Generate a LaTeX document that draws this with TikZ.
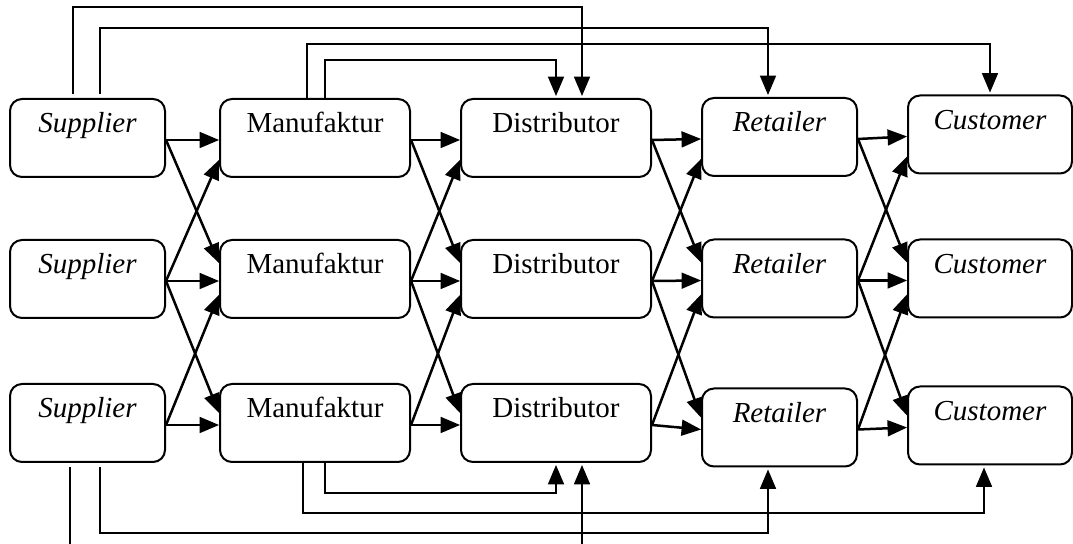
\documentclass[tikz,border=0pt]{standalone}
\usepackage{fontspec}
\setmainfont{Liberation Serif}
\usetikzlibrary{arrows}

\tikzset{
  box/.style={draw, rounded corners=6pt, line width=1pt, inner sep=0pt,
    minimum height=39pt, text height=17pt, text depth=22pt,
    font=\fontsize{14.5}{17}\selectfont},
  link/.style={->, line width=1.25pt},
}

\begin{document}
\begin{tikzpicture}[x=0.5pt,y=-0.5pt,>=triangle 45,line join=miter]
\useasboundingbox (0,0) rectangle (1073,544);
\clip (0,0) rectangle (1073,544);
% boxes
\node[box,minimum width=77.5pt] (sup1) at (87.5,138) {\textit{Supplier}};
\node[box,minimum width=77.5pt] (sup2) at (87.5,279) {\textit{Supplier}};
\node[box,minimum width=77.5pt] (sup3) at (87.5,423) {\textit{Supplier}};
\node[box,minimum width=95pt] (man1) at (315,138) {Manufaktur};
\node[box,minimum width=95pt] (man2) at (315,279) {Manufaktur};
\node[box,minimum width=95pt] (man3) at (315,423) {Manufaktur};
\node[box,minimum width=95pt] (dis1) at (556,138) {Distributor};
\node[box,minimum width=95pt] (dis2) at (556,279) {Distributor};
\node[box,minimum width=95pt] (dis3) at (556,423) {Distributor};
\node[box,minimum width=77.5pt] (ret1) at (779.5,137) {\textit{Retailer}};
\node[box,minimum width=77.5pt] (ret2) at (779.5,278.5) {\textit{Retailer}};
\node[box,minimum width=77.5pt] (ret3) at (779.5,427.5) {\textit{Retailer}};
\node[box,minimum width=82pt] (cus1) at (990,134.5) {\textit{Customer}};
\node[box,minimum width=82pt] (cus2) at (990,278.5) {\textit{Customer}};
\node[box,minimum width=82pt] (cus3) at (990,425.5) {\textit{Customer}};
% links between neighbouring columns
\foreach \a/\b in {sup/man,man/dis,dis/ret,ret/cus}{
  \draw[link] ([yshift=-1pt]\a1.east) -- ([yshift=-1pt]\b1.west);
  \draw[link] ([yshift=-1pt]\a1.east) -- ([yshift=8pt]\b2.west);
  \draw[link] ([yshift=-1pt]\a2.east) -- ([yshift=-11pt]\b1.west);
  \draw[link] ([yshift=-1pt]\a2.east) -- ([yshift=-1pt]\b2.west);
  \draw[link] ([yshift=-1pt]\a2.east) -- ([yshift=5pt]\b3.west);
  \draw[link] ([yshift=-1pt]\a3.east) -- ([yshift=-8pt]\b2.west);
  \draw[link] ([yshift=-1pt]\a3.east) -- ([yshift=-1pt]\b3.west);
}
% links over the top
\draw[link,shorten <=2pt,shorten >=1pt] ([xshift=-7.25pt]sup1.north) -- ++(0,-91) -| ([xshift=13pt]dis1.north);
\draw[link,shorten <=2pt,shorten >=1pt] ([xshift=6.25pt]sup1.north) -- ++(0,-70) -| ([xshift=-5.75pt]ret1.north);
\draw[link,shorten >=1pt] ([xshift=-4pt]man1.north) -- ++(0,-54) -| (cus1.north);
\draw[link,shorten >=1pt] ([xshift=5pt]man1.north) -- ++(0,-38) -| (dis1.north);
% links under the bottom
\draw[link,shorten >=1pt] ([xshift=5pt]man3.south) -- ++(0,30) -| (dis3.south);
\draw[link,shorten >=1pt] ([xshift=-6pt]man3.south) -- ++(0,50) -| ([xshift=-3pt]cus3.south);
\draw[link,shorten <=2pt,shorten >=1pt] ([xshift=6.25pt]sup3.south) -- ++(0,70) -| ([xshift=-5.75pt]ret3.south);
\draw[link,shorten <=2pt,shorten >=1pt] ([xshift=-8.75pt]sup3.south) -- ++(0,98) -| ([xshift=13pt]dis3.south);
\end{tikzpicture}
\end{document}
